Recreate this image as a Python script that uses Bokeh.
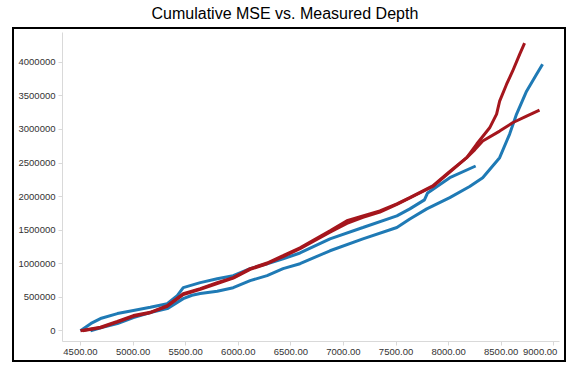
from bokeh.plotting import figure
from bokeh.models import Range1d, FixedTicker, NumeralTickFormatter
from bokeh.embed import file_html
from bokeh.resources import INLINE

title_text = "Cumulative MSE vs. Measured Depth"

x_ticks = [4500, 5000, 5500, 6000, 6500, 7000, 7500, 8000, 8500, 9000]
y_ticks = [0, 500000, 1000000, 1500000, 2000000, 2500000, 3000000, 3500000, 4000000]

# blue well 1 (upper blue, stops near 8260)
blue1_depth = [4500, 4600, 4690, 4851, 5003, 5164, 5325, 5420, 5477, 5639, 5800, 5952,
               6113, 6274, 6426, 6587, 6872, 7185, 7508, 7631, 7770, 7800, 8011, 8257]
blue1_mse = [0, 110000, 183000, 257000, 302000, 350000, 404000, 525000, 644000, 718000,
             777000, 822000, 926000, 1000000, 1074000, 1160000, 1371000, 1539000, 1713000,
             1817000, 1951000, 2055000, 2282000, 2456000]

# blue well 2 (lower blue, steep at the end)
blue2_depth = [4595, 4700, 4851, 5003, 5164, 5325, 5477, 5560, 5639, 5800, 5952, 6113,
               6274, 6426, 6587, 6872, 7185, 7508, 7631, 7792, 8011, 8200, 8324, 8485,
               8580, 8646, 8741, 8836, 8893]
blue2_mse = [0, 50000, 108000, 198000, 272000, 331000, 480000, 530000, 555000, 590000,
             643000, 748000, 822000, 926000, 1000000, 1193000, 1371000, 1539000, 1667000,
             1817000, 1985000, 2150000, 2282000, 2580000, 2932000, 3229000, 3571000,
             3823000, 3972000]

# red well 1 (steep end)
red1_depth = [4500, 4690, 4850, 5003, 5164, 5325, 5477, 5639, 5800, 5952, 6113, 6274,
              6426, 6587, 6872, 7033, 7185, 7346, 7508, 7631, 7849, 8000, 8172, 8267,
              8390, 8456, 8485, 8551, 8608, 8675, 8722]
red1_mse = [0, 53000, 140000, 227000, 276000, 376000, 554000, 629000, 718000, 792000,
            926000, 1010000, 1119000, 1238000, 1491000, 1640000, 1713000, 1788000,
            1892000, 1985000, 2159000, 2360000, 2580000, 2783000, 3025000, 3229000,
            3423000, 3674000, 3868000, 4120000, 4288000]

# red well 2 (flatter end)
red2_depth = [4520, 4690, 4850, 5003, 5164, 5325, 5477, 5639, 5800, 5952, 6113, 6274,
              6426, 6587, 6872, 7033, 7185, 7346, 7508, 7631, 7849, 8000, 8172, 8250,
              8324, 8485, 8608, 8741, 8864]
red2_mse = [0, 45000, 130000, 215000, 270000, 365000, 540000, 620000, 705000, 785000,
            915000, 1000000, 1105000, 1225000, 1470000, 1600000, 1690000, 1770000,
            1885000, 1980000, 2150000, 2350000, 2580000, 2700000, 2828000, 2976000,
            3100000, 3200000, 3289000]

BLUE = "#1f7ab5"
RED = "#a5161d"
AXIS_GRAY = "#d9d9d9"
LABEL_COLOR = "#333333"

X_LO, X_HI = 4329, 9054
Y_LO, Y_HI = -159000, 4445000

p = figure(width=578, height=373, output_backend="svg", toolbar_location=None,
           x_range=Range1d(X_LO, X_HI), y_range=Range1d(Y_LO, Y_HI),
           min_border_left=62, min_border_right=19, min_border_top=31,
           min_border_bottom=32)

# black frame around the plot area (drawn behind the transparent canvas)
p.border_fill_color = None
p.styles = {
    "background-color": "white",
    "background-image": ", ".join(["linear-gradient(#000, #000)"] * 4),
    "background-size": "2px 335px, 2px 335px, 554px 2px, 554px 2px",
    "background-position": "12px 27px, 564px 27px, 12px 27px, 12px 360px",
    "background-repeat": "no-repeat",
}

p.title.text = title_text
p.title.align = "left"
p.title.offset = 89
p.title.vertical_align = "top"
p.title.standoff = 0
p.title.padding = dict(left=0, right=0, top=4, bottom=9)
p.title.text_font = "Liberation Sans"
p.title.text_font_size = "16px"
p.title.text_font_style = "normal"
p.title.text_color = "black"

p.grid.visible = False
p.outline_line_color = None
p.background_fill_color = "white"

for ax in (p.xaxis[0], p.yaxis[0]):
    ax.axis_line_color = AXIS_GRAY
    ax.major_tick_line_color = AXIS_GRAY
    ax.minor_tick_line_color = None
    ax.major_tick_out = 4
    ax.major_tick_in = 0
    ax.major_label_text_font = "Liberation Sans"
    ax.major_label_text_font_size = "9.5px"
    ax.major_label_text_color = LABEL_COLOR

p.xaxis.ticker = FixedTicker(ticks=x_ticks)
p.xaxis.formatter = NumeralTickFormatter(format="0.00")
p.xaxis.major_label_standoff = 0
# last label is pushed left so it stays inside the frame, as in the original
p.xaxis.major_label_overrides = {x_ticks[-1]: "%.2f" % x_ticks[-1] + "\u00a0" * 8}
p.yaxis.ticker = FixedTicker(ticks=y_ticks)
p.yaxis.formatter = NumeralTickFormatter(format="0")
p.yaxis.major_label_standoff = 3

p.line(blue2_depth, blue2_mse, line_color=BLUE, line_width=3)
p.line(blue1_depth, blue1_mse, line_color=BLUE, line_width=3)
p.line(red2_depth, red2_mse, line_color=RED, line_width=3)
p.line(red1_depth, red1_mse, line_color=RED, line_width=3)

open("out.html", "w").write(file_html(p, INLINE))
